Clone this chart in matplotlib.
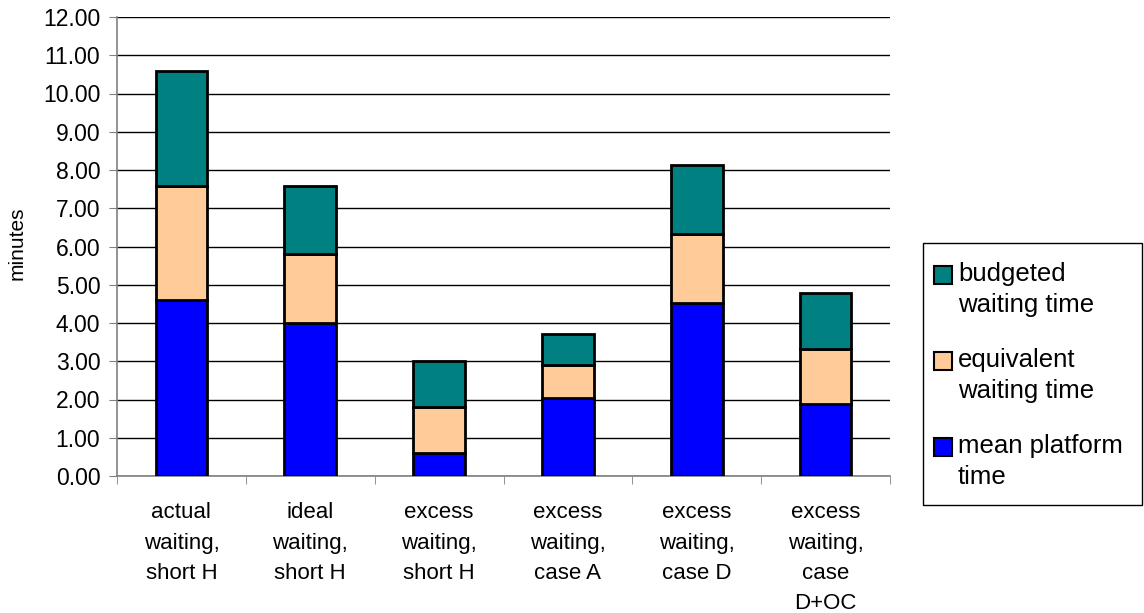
import numpy as np
import matplotlib.pyplot as plt
from matplotlib.patches import Rectangle

plt.rcParams['font.family'] = ['Liberation Sans', 'DejaVu Sans']

categories = ["actual\nwaiting,\nshort H", "ideal\nwaiting,\nshort H", "excess\nwaiting,\nshort H",
              "excess\nwaiting,\ncase A", "excess\nwaiting,\ncase D", "excess\nwaiting,\ncase\nD+OC"]
mean_platform = [4.60, 4.00, 0.59, 2.05, 4.53, 1.87]
equivalent_wait = [2.98, 1.80, 1.21, 0.84, 1.80, 1.45]
budgeted_wait = [3.01, 1.79, 1.21, 0.82, 1.80, 1.46]
y_ticks = np.arange(0, 12.01, 1)

colors = {"blue": "#0000FF", "peach": "#FFCC99", "teal": "#008080"}

W, H = 1144, 613
fig = plt.figure(figsize=(W / 100, H / 100), dpi=100)
ax = fig.add_axes([117 / W, 1 - 476 / H, (890 - 117) / W, (476 - 17) / H])

x = np.arange(len(categories))
w = 0.4
mp = np.array(mean_platform)
eq = np.array(equivalent_wait)
bw = np.array(budgeted_wait)
ax.bar(x, mp, w, color=colors["blue"], edgecolor="black", linewidth=2, zorder=3)
ax.bar(x, eq, w, bottom=mp, color=colors["peach"], edgecolor="black", linewidth=2, zorder=3)
ax.bar(x, bw, w, bottom=mp + eq, color=colors["teal"], edgecolor="black", linewidth=2, zorder=3)

ax.set_xlim(-0.5, len(categories) - 0.5)
ax.set_ylim(0, 12)
ax.set_yticks(y_ticks)
ax.set_yticklabels([f"{v:.2f}" for v in y_ticks], fontsize=16.5)
ax.yaxis.grid(True, color="black", linewidth=1, zorder=0)
ax.set_axisbelow(True)

ax.set_xticks(x)
ax.set_xticklabels(categories, fontsize=16, linespacing=1.58)
ax.tick_params(axis="x", length=0, pad=19)
ax.set_xticks(np.arange(-0.5, len(categories)), minor=True)
ax.tick_params(axis="x", which="minor", length=6, color="#808080")
ax.tick_params(axis="y", length=6, color="#808080", pad=6)

for side in ["top", "right"]:
    ax.spines[side].set_visible(False)
for side in ["left", "bottom"]:
    ax.spines[side].set_color("#808080")
    ax.spines[side].set_linewidth(1.2)

fig.text(17 / W, 1 - 243 / H, "minutes", rotation=90, fontsize=15,
         ha="center", va="center")

# legend drawn by hand so each swatch sits beside the first line of its label
def fx(px):
    return px / W

def fy(py):
    return 1 - py / H

fig.add_artist(Rectangle((fx(923), fy(505)), fx(1142) - fx(923), fy(243) - fy(505),
                         transform=fig.transFigure, facecolor="white",
                         edgecolor="black", linewidth=1))
legend_items = [(colors["teal"], "budgeted\nwaiting time"),
                (colors["peach"], "equivalent\nwaiting time"),
                (colors["blue"], "mean platform\ntime")]
for i, (c, label) in enumerate(legend_items):
    base = 281 + 86 * i
    fig.add_artist(Rectangle((fx(934), fy(base + 3)), fx(18), 18 / H,
                             transform=fig.transFigure, facecolor=c,
                             edgecolor="black", linewidth=1.5))
    for j, line in enumerate(label.split("\n")):
        fig.text(fx(958), fy(base + 31 * j), line, fontsize=18.5,
                 ha="left", va="baseline")

fig.savefig("out.png", dpi=100)
